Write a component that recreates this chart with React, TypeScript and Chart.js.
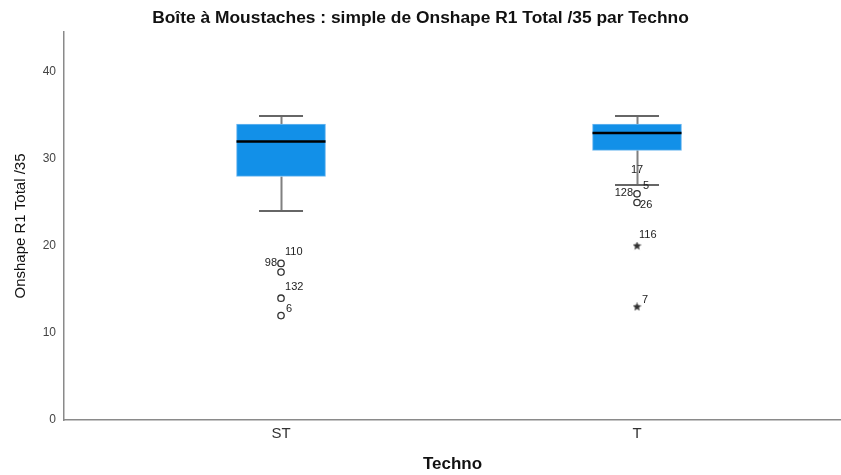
import React, { useEffect, useRef } from 'react';
import { Chart, registerables } from 'chart.js';

Chart.register(...registerables);

// ---------- data ----------
const categories = ['ST', 'T'];
const categoryPositions = [1, 2];
const q1Values = [28, 31];
const medianValues = [32, 33];
const q3Values = [34, 34];
const whiskerLowValues = [24, 27];
const whiskerHighValues = [35, 35];

const outlierCategories = ['ST', 'ST', 'ST', 'ST', 'T', 'T'];
const outlierValues = [18, 17, 14, 12, 26, 25];

const extremeCategories = ['T', 'T'];
const extremeValues = [20, 13];

const caseLabelCategories = ['ST', 'ST', 'ST', 'ST', 'T', 'T', 'T', 'T', 'T', 'T'];
const caseLabelValues = [18, 18, 14, 12, 26, 26, 26, 25, 20, 13];
const caseLabelIds = ['98', '110', '132', '6', '128', '17', '5', '26', '116', '7'];

const yTickValues = [0, 10, 20, 30, 40];

// ---------- styles ----------
const FONT = '"Liberation Sans", Arial, sans-serif';
const BOX_WIDTH = 89;
const CAP_WIDTH = 44;
const BOX_FILL = '#1290e8';
const BOX_EDGE = '#6fb8f0';
const STEM_COLOR = '#808080';
const CAP_COLOR = '#666666';
const LABEL_OFFSETS: Record<string, { dx: number; dy: number; align: CanvasTextAlign }> = {
  '98': { dx: -4, dy: 0, align: 'right' },
  '110': { dx: 4, dy: -11, align: 'left' },
  '132': { dx: 4, dy: -11, align: 'left' },
  '6': { dx: 5, dy: -7, align: 'left' },
  '128': { dx: -4, dy: -1, align: 'right' },
  '17': { dx: 0, dy: -24, align: 'center' },
  '5': { dx: 6, dy: -8, align: 'left' },
  '26': { dx: 3, dy: 2, align: 'left' },
  '116': { dx: 2, dy: -11, align: 'left' },
  '7': { dx: 5, dy: -7, align: 'left' },
};

function makeStar(size: number, color: string) {
  const c = document.createElement('canvas');
  c.width = size;
  c.height = size;
  const g = c.getContext('2d')!;
  g.fillStyle = color;
  g.beginPath();
  const cx = size / 2;
  const cy = size / 2;
  const R = size / 2;
  const r = R * 0.45;
  for (let i = 0; i < 10; i++) {
    const a = -Math.PI / 2 + (i * Math.PI) / 5;
    const rad = i % 2 ? r : R;
    g.lineTo(cx + rad * Math.cos(a), cy + rad * Math.sin(a));
  }
  g.closePath();
  g.fill();
  return c;
}

const boxPlugin = {
  id: 'boxWhiskers',
  beforeDatasetsDraw(chart: any) {
    const { ctx, scales } = chart;
    const xs = scales.x;
    const ys = scales.y;
    ctx.save();
    ctx.strokeStyle = STEM_COLOR;
    ctx.lineWidth = 2;
    categoryPositions.forEach((pos, i) => {
      const x = Math.round(xs.getPixelForValue(pos)) + 0.5;
      ctx.beginPath();
      ctx.moveTo(x, ys.getPixelForValue(whiskerLowValues[i]));
      ctx.lineTo(x, ys.getPixelForValue(q1Values[i]));
      ctx.moveTo(x, ys.getPixelForValue(q3Values[i]));
      ctx.lineTo(x, ys.getPixelForValue(whiskerHighValues[i]));
      ctx.stroke();
    });
    ctx.restore();
  },
  afterDatasetsDraw(chart: any) {
    const { ctx, scales } = chart;
    const xs = scales.x;
    const ys = scales.y;
    ctx.save();
    categoryPositions.forEach((pos, i) => {
      const x = xs.getPixelForValue(pos);
      ctx.strokeStyle = CAP_COLOR;
      ctx.lineWidth = 2;
      [whiskerLowValues[i], whiskerHighValues[i]].forEach((v) => {
        const y = Math.round(ys.getPixelForValue(v));
        ctx.beginPath();
        ctx.moveTo(x - CAP_WIDTH / 2, y);
        ctx.lineTo(x + CAP_WIDTH / 2, y);
        ctx.stroke();
      });
      ctx.strokeStyle = '#000000';
      ctx.lineWidth = 2.5;
      const ym = ys.getPixelForValue(medianValues[i]);
      ctx.beginPath();
      ctx.moveTo(x - BOX_WIDTH / 2, ym);
      ctx.lineTo(x + BOX_WIDTH / 2, ym);
      ctx.stroke();
    });
    ctx.fillStyle = '#222222';
    ctx.font = `11px ${FONT}`;
    ctx.textBaseline = 'middle';
    caseLabelIds.forEach((id, i) => {
      const ci = categories.indexOf(caseLabelCategories[i]);
      const x = xs.getPixelForValue(categoryPositions[ci]);
      const y = ys.getPixelForValue(caseLabelValues[i]);
      const o = LABEL_OFFSETS[id];
      ctx.textAlign = o.align;
      ctx.fillText(id, x + o.dx, y + o.dy);
    });
    ctx.restore();
  },
};

export default function App() {
  const ref = useRef<HTMLCanvasElement>(null);
  useEffect(() => {
    document.body.style.margin = '0';
    const star = makeStar(9, '#333333');
    const posOf = (cat: string) => categoryPositions[categories.indexOf(cat)];
    const chart = new Chart(ref.current!, {
      type: 'bar',
      data: {
        datasets: [
          {
            type: 'bar',
            data: categoryPositions.map((x, i) => ({ x, y: [q1Values[i], q3Values[i]] })) as any,
            backgroundColor: BOX_FILL,
            borderColor: BOX_EDGE,
            borderWidth: 1,
            borderSkipped: false,
            barThickness: BOX_WIDTH,
          } as any,
          {
            type: 'scatter',
            data: outlierValues.map((v, i) => ({ x: posOf(outlierCategories[i]), y: v })),
            pointStyle: 'circle',
            pointRadius: 3.2,
            backgroundColor: 'rgba(255,255,255,0)',
            borderColor: '#333333',
            borderWidth: 1.3,
          } as any,
          {
            type: 'scatter',
            data: extremeValues.map((v, i) => ({ x: posOf(extremeCategories[i]), y: v })),
            pointStyle: star,
            pointRadius: 4.5,
          } as any,
        ],
      },
      options: {
        animation: false,
        responsive: true,
        maintainAspectRatio: false,
        layout: { padding: 0, autoPadding: false },
        plugins: {
          legend: { display: false },
          tooltip: { enabled: false },
          title: {
            display: true,
            text: 'Boîte à Moustaches : simple de Onshape R1 Total /35 par Techno',
            color: '#111111',
            font: { family: FONT, size: 17.4, weight: 'bold' },
            padding: { top: 7.6, bottom: 3.5 },
          },
        },
        scales: {
          x: {
            type: 'linear',
            min: 0.3904,
            max: 2.573,
            offset: false,
            grid: { display: false, drawTicks: false },
            border: { display: true, color: '#8a8a8a', width: 1.5 },
            afterBuildTicks: (scale: any) => {
              scale.ticks = categoryPositions.map((v) => ({ value: v }));
            },
            afterFit: (scale: any) => {
              scale.height = 55;
            },
            ticks: {
              padding: 5,
              color: '#333333',
              font: { family: FONT, size: 15 },
              maxRotation: 0,
              callback: (value: any) => {
                const i = categoryPositions.indexOf(Number(value));
                return i >= 0 ? categories[i] : '';
              },
            },
            title: {
              display: true,
              text: 'Techno',
              color: '#111111',
              font: { family: FONT, size: 17, weight: 'bold' },
              padding: { top: 0, bottom: 0 },
            },
          },
          y: {
            type: 'linear',
            min: 0,
            max: 44.6,
            grid: { display: false, drawTicks: false },
            border: { display: true, color: '#8a8a8a', width: 1.5 },
            afterBuildTicks: (scale: any) => {
              scale.ticks = yTickValues.map((v) => ({ value: v }));
            },
            afterFit: (scale: any) => {
              scale.width = 64;
            },
            ticks: {
              padding: 8,
              color: '#444444',
              font: { family: FONT, size: 12 },
            },
            title: {
              display: true,
              text: 'Onshape R1 Total /35',
              color: '#111111',
              font: { family: FONT, size: 15 },
              padding: { top: 12, bottom: 0 },
            },
          },
        },
      } as any,
      plugins: [boxPlugin],
    });
    return () => chart.destroy();
  }, []);
  return (
    <div style={{ position: 'absolute', left: 0, top: 0, width: 841, height: 475 }}>
      <canvas ref={ref} />
    </div>
  );
}
